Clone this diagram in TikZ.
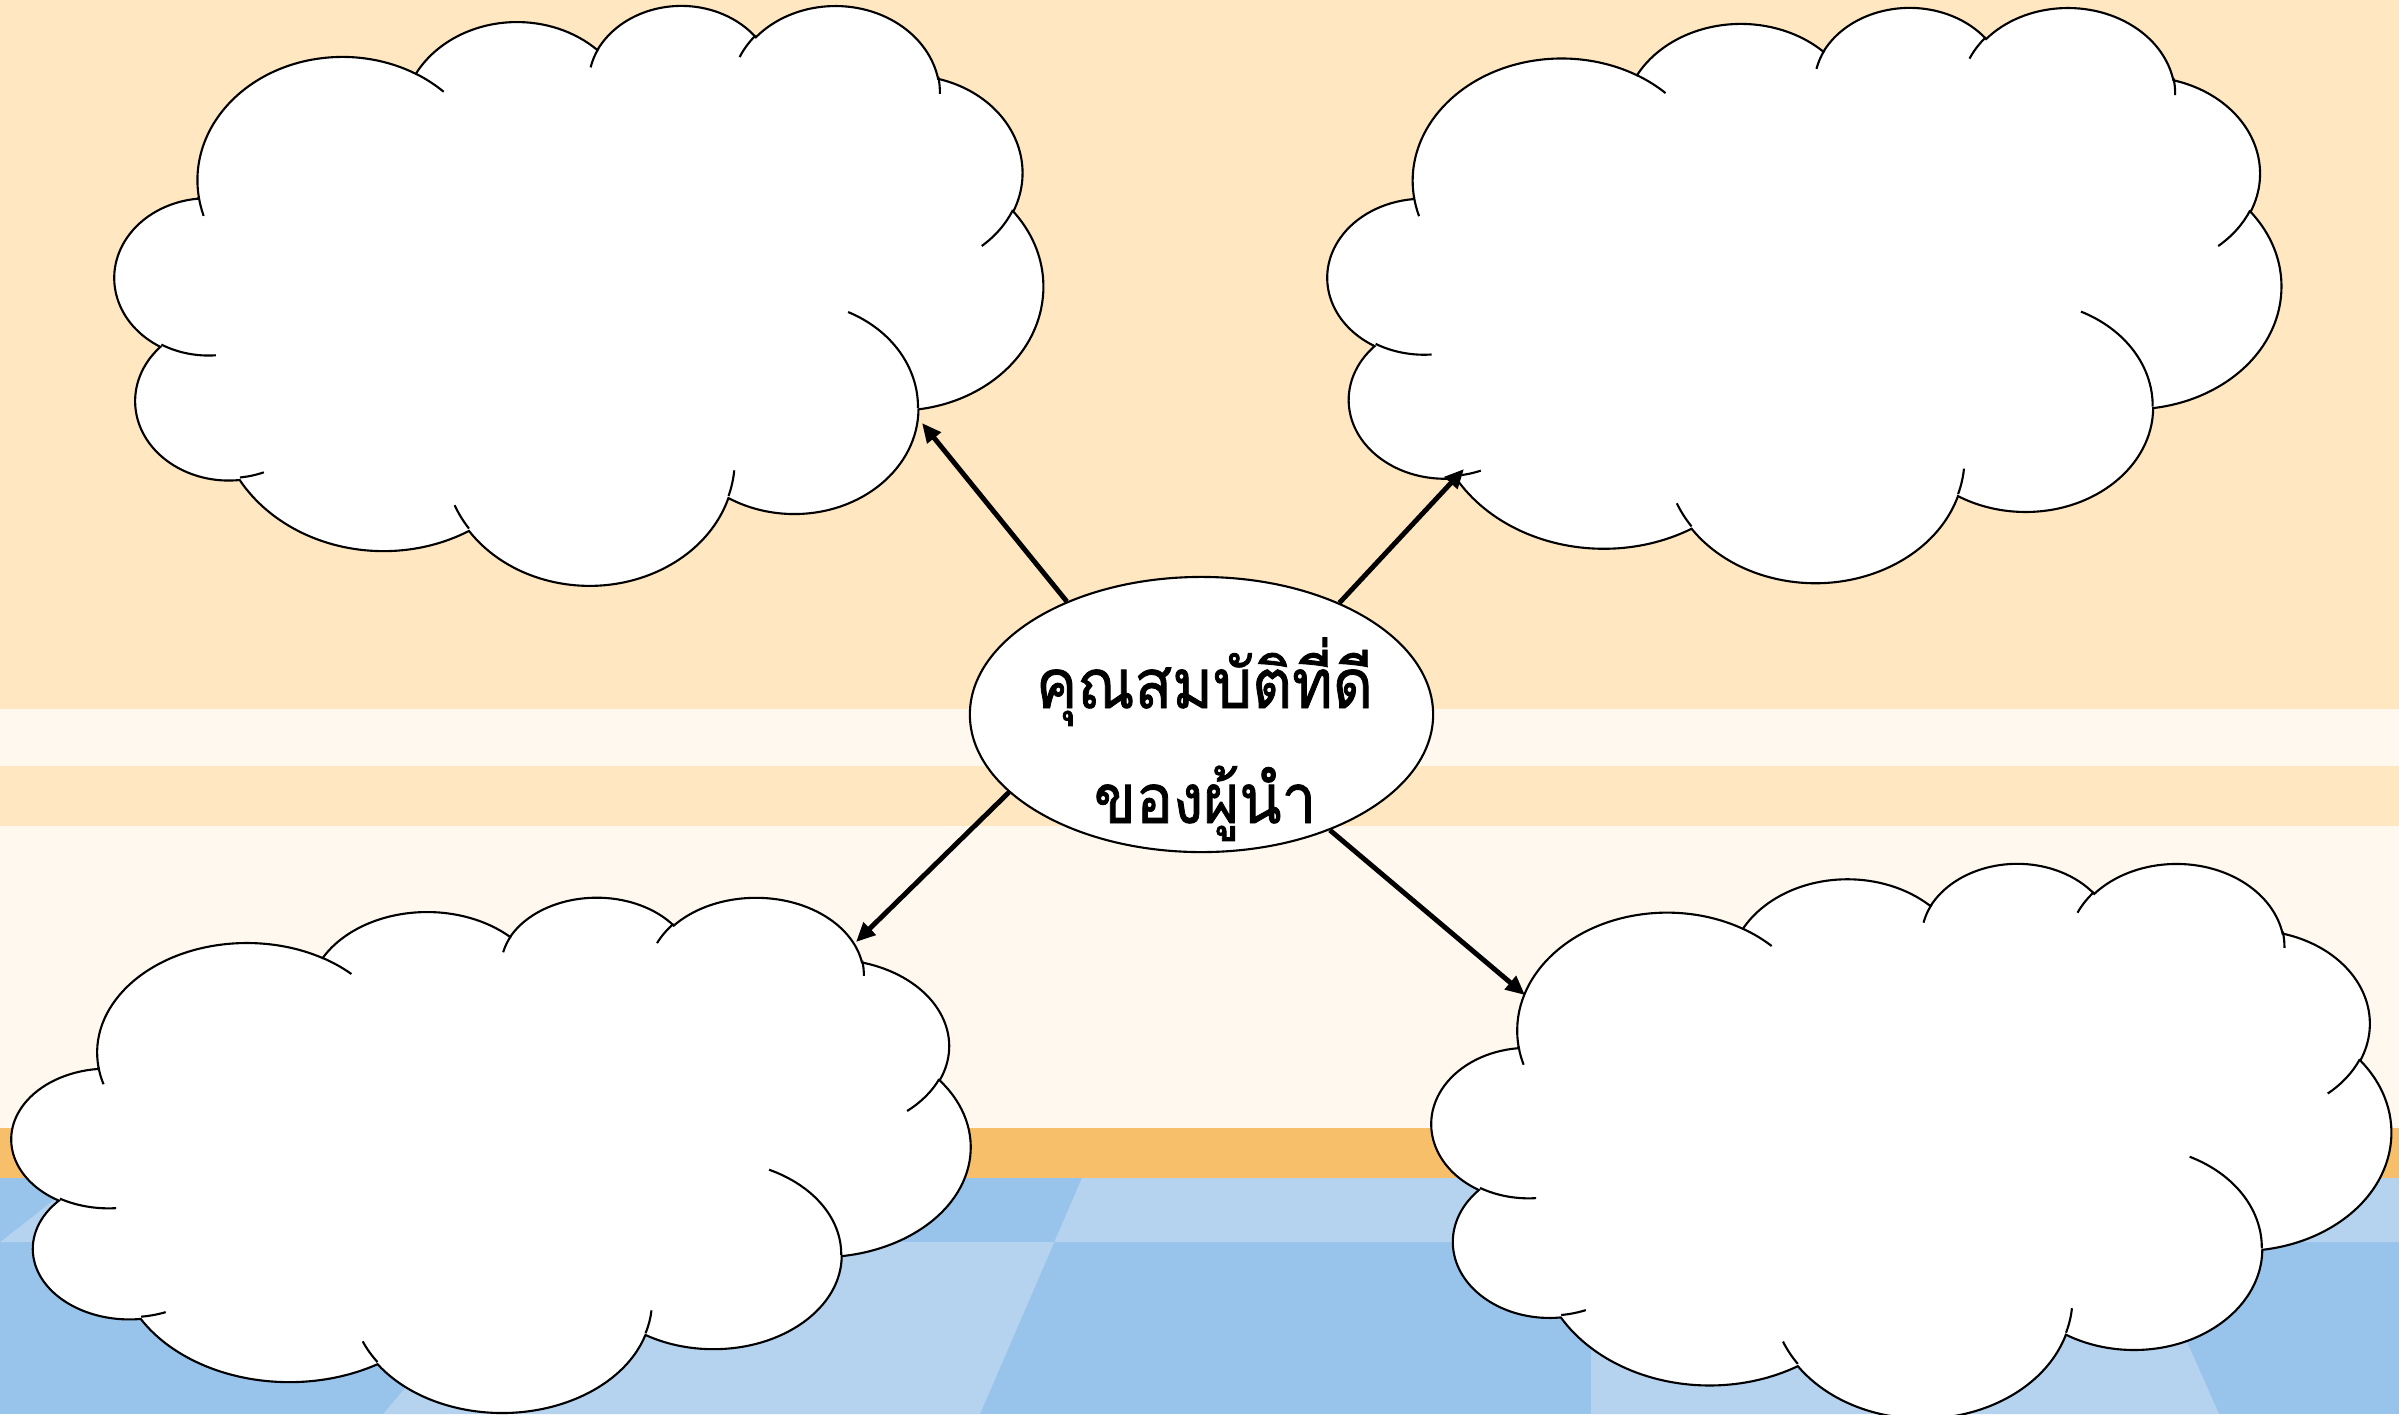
\documentclass[tikz,border=0pt]{standalone}
\usepackage{fontspec}
\newfontfamily\thaifont[Script=Thai,FakeStretch=0.9,FakeBold=1.2]{Loma}
\usetikzlibrary{shapes.geometric,arrows.meta}
\definecolor{peach}{HTML}{FFE7C1}
\definecolor{cream}{HTML}{FFF8EE}
\definecolor{bandorange}{HTML}{F8BF6B}
\definecolor{tiledark}{HTML}{98C4EC}
\definecolor{tilelight}{HTML}{B5D3EF}
% convert a DrawingML arcTo (visual angles) into a TikZ arc (parametric angles)
\newcommand\mkarc[5]{%
  \pgfmathsetmacro\CAs{atan2((#2)*sin(#4),(#3)*cos(#4))}%
  \pgfmathsetmacro\CAe{atan2((#2)*sin(#4+(#5)),(#3)*cos(#4+(#5)))}%
  \pgfmathsetmacro\CAd{mod(\CAe-(\CAs)+720,360)}%
  \expandafter\xdef\csname #1\endcsname{arc[x radius=#2, y radius=#3, start angle=\CAs, delta angle=\CAd]}%
}
\mkarc{CLA}{67.53}{91.90}{-190.48748}{123.78053}
\mkarc{CLB}{53.33}{72.67}{-144.10238}{89.94523}
\mkarc{CLC}{43.65}{59.45}{-145.80792}{99.72302}
\mkarc{CLD}{48.57}{65.95}{-130.98607}{117.24173}
\mkarc{CLE}{53.33}{72.73}{-78.70888}{109.02692}
\mkarc{CLF}{67.75}{92.20}{-46.26725}{130.269}
\mkarc{CLG}{57.85}{78.67}{0.62502}{114.03333}
\mkarc{CLH}{67.52}{92.15}{22.4516}{115.17255}
\mkarc{CLI}{77.20}{105.43}{66.24263}{75.71102}
\mkarc{CLJ}{43.60}{59.18}{-274.94208}{146.73557}
\mkarc{CLK}{43.45}{59.45}{-246.8285}{152.51885}
\mkarc{CIA}{43.45}{59.45}{86.742}{26.4295}
\mkarc{CIB}{43.60}{59.18}{73.61047}{11.44747}
\mkarc{CIC}{67.52}{92.15}{137.62415}{14.0811}
\mkarc{CID}{67.52}{92.15}{6.45327}{15.99835}
\mkarc{CIE}{57.85}{78.67}{-70.29235}{70.91737}
\mkarc{CIF}{53.33}{72.73}{30.31803}{27.7515}
\mkarc{CIG}{48.57}{65.95}{-13.74433}{14.8589}
\mkarc{CIH}{48.57}{65.95}{-149.18145}{18.19537}
\mkarc{CII}{43.65}{59.45}{-163.49427}{17.68635}
\mkarc{CIJ}{67.53}{91.90}{-66.70695}{12.31935}
\mkarc{CIK}{67.53}{91.90}{157.65435}{11.85817}
\def\cloudmain{(39.00,143.70) \CLA \CLB \CLC \CLD \CLE \CLF \CLG \CLH \CLI \CLJ \CLK -- cycle}
\def\cloudinner{(46.93,261.77) \CIA (69.28,348.99) \CIB (164.78,390.90) \CIC
  (288.27,347.51) \CID (341.29,229.54) \CIE (417.98,153.54) \CIF (383.24,54.26) \CIG
  (290.78,39.52) \CIH (221.41,47.20) \CII (140.00,51.92) \CIJ (41.27,157.89) \CIK}
\newcommand\drawcloud[4]{%
  \pgfmathsetmacro\cwx{#3/432/100}%
  \pgfmathsetmacro\chy{-#4/432/100}%
  \begin{scope}[shift={(#1,#2)}, x=\cwx cm, y=\chy cm]
    \path[cloudfill] \cloudmain;
    \path[cloudline] \cloudinner;
  \end{scope}}
\begin{document}
\begin{tikzpicture}[x=0.01cm,y=-0.01cm,
  cloudfill/.style={fill=white,draw=black,line width=0.6pt},
  cloudline/.style={draw=black,line width=0.6pt},
  arr/.style={draw=black,line width=1.4pt,-{Triangle[length=5.5pt,width=4.8pt]}},
  thaitext/.style={font=\thaifont\fontsize{19.5pt}{22pt}\selectfont, anchor=base, inner sep=0pt}]
\useasboundingbox (0,0) rectangle (2399,1414);
\clip (0,0) rectangle (2399,1414);
% background
\fill[peach] (0,0) rectangle (2399,1414);
\fill[cream] (0,709) rectangle (2399,766);
\fill[cream] (0,826) rectangle (2399,1128);
\fill[bandorange] (0,1128) rectangle (2399,1178);
\fill[tiledark] (0,1178) rectangle (2399,1414);
\fill[tilelight] (82.2,1178) -- (584.6,1178) -- (529.9,1242) -- (0.3,1242) -- cycle;
\fill[tilelight] (1082,1178) -- (1591,1178) -- (1591,1242) -- (1054.3,1242) -- cycle;
\fill[tilelight] (2114.2,1178) -- (2399,1178) -- (2399,1242) -- (2142.6,1242) -- cycle;
\fill[tilelight] (529.9,1242) -- (1054.3,1242) -- (980,1414) -- (383,1414) -- cycle;
\fill[tilelight] (1591,1242) -- (2142.6,1242) -- (2219,1414) -- (1591,1414) -- cycle;
% clouds
\drawcloud{115}{4}{928}{580}
\drawcloud{1328}{6}{953}{575}
\drawcloud{12}{896}{958}{515}
\drawcloud{1432}{862}{959}{555}
% centre
\node[ellipse, draw, fill=white, line width=0.6pt, minimum width=4.63cm,
  minimum height=2.75cm, inner sep=0pt] (center) at (1201.5,714.5) {};
\node[thaitext] (line1) at (1204.5,708) {คุณสมบัติที่ดี};
\node[thaitext] (line2) at (1205,823) {ของผู้นำ};
% connectors
\coordinate (tipTL) at (922,423);
\coordinate (tipTR) at (1464,469);
\coordinate (tipBL) at (856,942);
\coordinate (tipBR) at (1525,995);
\draw[arr] (center.140.8) -- (tipTL);
\draw[arr] (center.39.45) -- (tipTR);
\draw[arr] (center.202) -- (tipBL);
\draw[arr] (center.318.1) -- (tipBR);
\end{tikzpicture}
\end{document}
